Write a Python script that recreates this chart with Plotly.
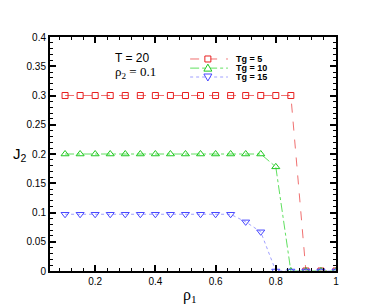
import plotly.graph_objects as go

rho1 = [0.10, 0.15, 0.20, 0.25, 0.30, 0.35, 0.40, 0.45, 0.50, 0.55,
        0.60, 0.65, 0.70, 0.75, 0.80, 0.85, 0.90, 0.95, 1.00]
j2_tg5 = [0.3, 0.3, 0.3, 0.3, 0.3, 0.3, 0.3, 0.3, 0.3, 0.3,
          0.3, 0.3, 0.3, 0.3, 0.3, 0.3, 0.0, 0.0, 0.0]
j2_tg10 = [0.2, 0.2, 0.2, 0.2, 0.2, 0.2, 0.2, 0.2, 0.2, 0.2,
           0.2, 0.2, 0.2, 0.2, 0.178, 0.0, 0.0, 0.0, 0.0]
j2_tg15 = [0.097, 0.097, 0.097, 0.097, 0.097, 0.097, 0.097, 0.097, 0.097, 0.097,
           0.097, 0.097, 0.084, 0.067, 0.0, 0.0, 0.0, 0.0, 0.0]
series_names = ["Tg = 5", "Tg = 10", "Tg = 15"]
x_ticks = [0.2, 0.4, 0.6, 0.8, 1]
x_ticklabels = ["0.2", "0.4", "0.6", "0.8", "1"]
y_ticks = [0, 0.05, 0.1, 0.15, 0.2, 0.25, 0.3, 0.35, 0.4]
y_ticklabels = ["0", "0.05", "0.1", "0.15", "0.2", "0.25", "0.3", "0.35", "0.4"]

styles = [
    dict(line="#f07070", marker="#e82020", dash="dash", symbol="square-open", size=6),
    dict(line="#60e060", marker="#20c820", dash="dashdot", symbol="triangle-up-open", size=7),
    dict(line="#a0a0ff", marker="#4848ff", dash="dot", symbol="triangle-down-open", size=7),
]
series = [j2_tg5, j2_tg10, j2_tg15]

fig = go.Figure()
for name, ys, st in zip(series_names, series, styles):
    fig.add_trace(go.Scatter(x=rho1, y=ys, name=name, mode="lines+markers", showlegend=False,
                             line=dict(color=st["line"], width=1, dash=st["dash"]),
                             marker=dict(symbol=st["symbol"], size=st["size"], color=st["marker"],
                                         line=dict(width=1, color=st["marker"]))))

axis_common = dict(showline=True, linecolor="black", linewidth=2, mirror="ticks",
                   ticks="inside", ticklen=6, tickwidth=1.5, tickcolor="black",
                   showgrid=False, zeroline=False,
                   tickfont=dict(family="Liberation Sans, Arial", size=10, color="black"))

fig.update_xaxes(range=[0.05, 1.0], tickvals=x_ticks, ticktext=x_ticklabels,
                 minor=dict(dtick=0.04, tick0=0, ticks="inside", ticklen=3,
                            tickcolor="black", tickwidth=1),
                 **axis_common)
fig.update_yaxes(range=[0, 0.4], tickvals=y_ticks, ticktext=y_ticklabels,
                 minor=dict(dtick=0.01, tick0=0, ticks="inside", ticklen=3,
                            tickcolor="black", tickwidth=1),
                 **axis_common)

# manual compact legend (paper coordinates)
shapes = []
annotations = []
leg_x0, leg_x1, leg_xm, leg_xt = 0.49, 0.622, 0.552, 0.645
leg_rows = [0.906, 0.867, 0.829]
marker_paths = [
    "M-3,-3 L3,-3 L3,3 L-3,3 Z",
    "M-4,-3 L4,-3 L0,4 Z",
    "M-4,3 L4,3 L0,-4 Z",
]
for name, st, ly, mp in zip(series_names, styles, leg_rows, marker_paths):
    shapes.append(dict(type="line", xref="paper", yref="paper", x0=leg_x0, x1=leg_x1, y0=ly, y1=ly,
                       line=dict(color=st["line"], width=1, dash=st["dash"])))
    shapes.append(dict(type="path", xref="paper", yref="paper", xsizemode="pixel", ysizemode="pixel",
                       xanchor=leg_xm, yanchor=ly, path=mp, fillcolor="white",
                       line=dict(color=st["marker"], width=1)))
    annotations.append(dict(text="<b>" + name + "</b>", x=leg_xt, y=ly, xref="paper", yref="paper",
                            showarrow=False, xanchor="left", yanchor="middle",
                            font=dict(family="Liberation Sans, Arial", size=9, color="black")))

annotations += [
    dict(text="T = 20", x=0.22, y=0.91, xref="paper", yref="paper", showarrow=False,
         xanchor="left", yanchor="middle",
         font=dict(family="Liberation Sans, Arial", size=12, color="black")),
    dict(text="ρ<sub>2</sub> = 0.1", x=0.22, y=0.85, xref="paper", yref="paper", showarrow=False,
         xanchor="left", yanchor="middle",
         font=dict(family="Liberation Serif, Times New Roman", size=13, color="black")),
    dict(text="J<sub>2</sub>", x=-0.105, y=0.496, xref="paper", yref="paper", showarrow=False,
         xanchor="center", yanchor="middle",
         font=dict(family="Liberation Sans, Arial", size=15, color="black")),
    dict(text="ρ<sub>1</sub>", x=0.49, y=-0.103, xref="paper", yref="paper", showarrow=False,
         xanchor="center", yanchor="middle",
         font=dict(family="Liberation Serif, Times New Roman", size=16, color="black")),
]

fig.update_layout(
    width=382, height=306,
    margin=dict(l=42, r=54, t=29, b=43),
    paper_bgcolor="white", plot_bgcolor="white",
    showlegend=False,
    shapes=shapes,
    annotations=annotations,
)

fig.write_html("out.html")
